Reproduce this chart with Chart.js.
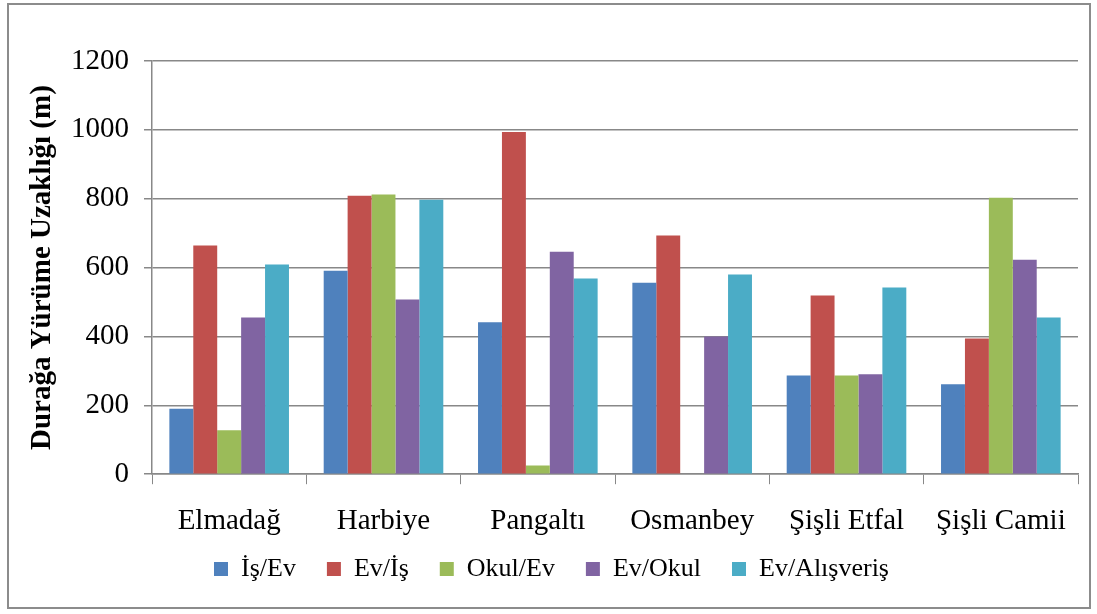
<!DOCTYPE html>
<html>
<head>
<meta charset="utf-8">
<script src="https://cdn.jsdelivr.net/npm/chart.js@4.4.0/dist/chart.umd.min.js"></script>
<style>
  body { margin: 0; background: #fff; }
  #frame {
    position: absolute; left: 7px; top: 3px;
    width: 1080px; height: 602px;
    border: 2px solid #8c8c8c;
    pointer-events: none;
  }
  #chart { position: absolute; left: 0; top: 0; }
</style>
</head>
<body>
<canvas id="chart" width="1097" height="614"></canvas>
<div id="frame"></div>
<script>
    'use strict';

    // stops along the line
    var stops = ['Elmadağ', 'Harbiye', 'Pangaltı', 'Osmanbey', 'Şişli Etfal', 'Şişli Camii'];

    // walking distance to stop (m), per trip purpose
    var isEv = [190, 591, 441, 556, 287, 261];
    var evIs = [664, 809, 994, 693, 519, 394];
    var okulEv = [128, 812, 25, 0, 287, 803];
    var evOkul = [455, 507, 646, 400, 290, 623];
    var evAlisveris = [609, 797, 568, 580, 542, 455];

    var yTicks = [0, 200, 400, 600, 800, 1000, 1200];

    var serif = "'Liberation Serif', 'Times New Roman', serif";

    function series(label, data, color) {
        return {
            label: label,
            data: data,
            backgroundColor: color,
            borderWidth: 0,
            categoryPercentage: 0.775,
            barPercentage: 1.0
        };
    }

    var chart = new Chart(document.getElementById('chart'), {
        type: 'bar',
        data: {
            labels: stops,
            datasets: [
                series('İş/Ev', isEv, '#4f81bd'),
                series('Ev/İş', evIs, '#c0504d'),
                series('Okul/Ev', okulEv, '#9bbb59'),
                series('Ev/Okul', evOkul, '#8064a2'),
                series('Ev/Alışveriş', evAlisveris, '#4bacc6')
            ]
        },
        options: {
            responsive: false,
            animation: false,
            layout: {
                padding: { left: 25, right: 19, top: 61, bottom: 22 }
            },
            plugins: {
                tooltip: { enabled: false },
                legend: {
                    position: 'bottom',
                    labels: {
                        color: '#000',
                        font: { family: serif, size: 26 },
                        boxWidth: 14,
                        boxHeight: 14,
                        padding: 31
                    }
                }
            },
            scales: {
                x: {
                    afterFit: function (scale) {
                        scale.height = scale.height - 34;
                        // labels sit partly over the legend band, don't clip them
                        scale._computeLabelArea = function () { return undefined; };
                    },
                    grid: {
                        offset: true,
                        drawOnChartArea: false,
                        color: '#888',
                        tickLength: 10
                    },
                    border: { color: '#888', width: 1.5 },
                    ticks: {
                        color: '#000',
                        padding: 20,
                        font: { family: serif, size: 29 }
                    }
                },
                y: {
                    min: 0,
                    max: 1200,
                    afterBuildTicks: function (scale) {
                        scale.ticks = yTicks.map(function (v) { return { value: v }; });
                    },
                    afterFit: function (scale) {
                        scale.width = 127;
                    },
                    grid: {
                        color: '#888',
                        lineWidth: 1.5,
                        tickLength: 8
                    },
                    border: { color: '#888', width: 1.5 },
                    ticks: {
                        color: '#000',
                        padding: 15,
                        font: { family: serif, size: 29 },
                        callback: function (v) { return String(v); }
                    },
                    title: {
                        display: true,
                        text: 'Durağa Yürüme Uzaklığı (m)',
                        color: '#000',
                        padding: 0,
                        font: { family: serif, size: 29, weight: 'bold' }
                    }
                }
            }
        }
    });
</script>
</body>
</html>
